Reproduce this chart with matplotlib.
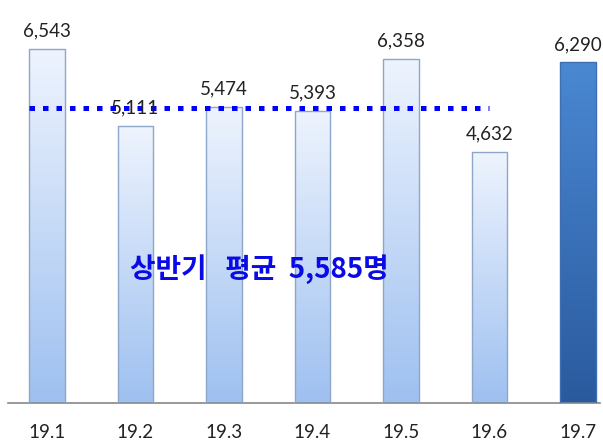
import matplotlib
matplotlib.use("Agg")
import matplotlib.pyplot as plt
import numpy as np
from matplotlib.patches import Rectangle
from matplotlib.colors import LinearSegmentedColormap

categories = ["19.1", "19.2", "19.3", "19.4", "19.5", "19.6", "19.7"]
values = [6543, 5111, 5474, 5393, 6358, 4632, 6290]
labels = ["6,543", "5,111", "5,474", "5,393", "6,358", "4,632", "6,290"]
avg_line_level = 5450
avg_text = "상반기   평균  5,585명"

fig = plt.figure(figsize=(6.03, 4.44), dpi=100)
ax = fig.add_axes([8/603, 41/444, 592/603, 403/444])
ax.set_xlim(-0.44, 6.25)
ax.set_ylim(0, 7442)

light = LinearSegmentedColormap.from_list("l", ["#9ec0f0", "#eef4fe"])
dark = LinearSegmentedColormap.from_list("d", ["#2a5a9e", "#4a88d2"])
grad = np.linspace(0, 1, 256).reshape(-1, 1)
w = 0.40
for i, v in enumerate(values):
    last = i == len(values) - 1
    rect = Rectangle((i - w/2, 0), w, v, facecolor="none",
                     edgecolor="#3f6fb0" if last else "#8ea6c8", lw=1.0, zorder=3)
    ax.add_patch(rect)
    im = ax.imshow(grad, cmap=dark if last else light, origin="lower", aspect="auto",
                   extent=(i - w/2, i + w/2, 0, v), zorder=2)
    im.set_clip_path(rect)
    ax.text(i, v + 330, labels[i], ha="center", va="center", fontsize=13.5,
            family="Lato", color="#222222", zorder=5)

ax.plot([-0.2, 5.0], [avg_line_level, avg_line_level], color="#0000ff", lw=3.6,
        linestyle=(0, (1.1, 1.6)), zorder=4, solid_capstyle="butt", dash_capstyle="butt")
ax.text(0.94, 2470, avg_text, ha="left", va="center", fontsize=20, fontweight="bold",
        color="#0a0ae6", family=["Noto Sans CJK KR", "DejaVu Sans"], zorder=5)

ax.set_xticks(range(len(categories)))
ax.set_xticklabels(categories, fontsize=13.5, family="Lato", color="#222222")
ax.tick_params(axis="x", length=0, pad=15)
ax.set_yticks([])
for s in ["top", "right", "left"]:
    ax.spines[s].set_visible(False)
ax.spines["bottom"].set_color("#888888")
ax.spines["bottom"].set_linewidth(1.2)

fig.savefig("out.png", dpi=100)
